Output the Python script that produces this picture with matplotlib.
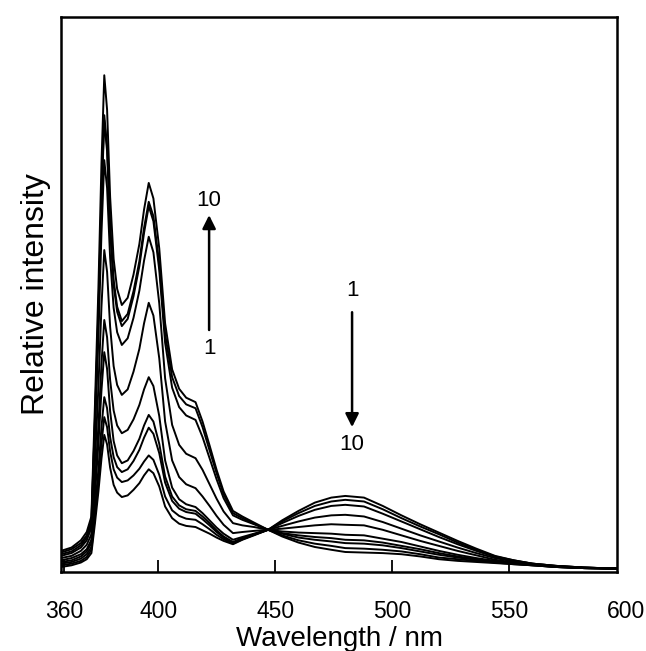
import numpy as np
import matplotlib
matplotlib.use("Agg")
import matplotlib.pyplot as plt

plt.rcParams['font.family'] = ['Liberation Sans', 'DejaVu Sans']

# --- data (wavelength in nm, relative intensity 0-100) ---
wavelength = [358.5, 363, 367, 369.5, 371.5, 373, 374.5, 375.8, 377, 378.2,
              379.5, 381, 382.5, 384.5, 387, 389.5, 392, 394, 396, 398,
              400.5, 403, 406, 409, 412, 416, 419, 422, 425, 428,
              432, 436, 441, 447, 453, 460, 467, 474, 480, 488,
              496, 504, 512, 520, 528, 536, 544, 552, 560, 570,
              582, 596]

spec_1 = [0.9, 1.2, 1.7, 2.3, 3.4, 8.7, 14.5, 20.4, 24.7, 23.0,
          18.8, 15.7, 14.3, 13.5, 13.8, 14.8, 16.0, 17.4, 18.5, 17.8,
          15.4, 11.8, 9.7, 8.7, 8.3, 8.1, 7.5, 6.9, 6.2, 5.6,
          5.0, 5.8, 6.6, 7.6, 9.3, 11.0, 12.5, 13.4, 13.7, 13.4,
          11.9, 10.2, 8.6, 7.1, 5.6, 4.2, 2.9, 2.1, 1.5, 1.1,
          0.8, 0.6]
spec_2 = [1.2, 1.5, 2.0, 2.7, 4.0, 10.0, 16.4, 23.1, 27.9, 26.1,
          21.7, 18.5, 17.0, 16.2, 16.5, 17.4, 18.6, 19.9, 21.0, 20.2,
          17.5, 13.6, 11.1, 10.1, 9.6, 9.4, 8.6, 7.7, 6.7, 5.9,
          5.1, 5.9, 6.7, 7.6, 9.1, 10.6, 11.9, 12.7, 13.0, 12.7,
          11.3, 9.7, 8.2, 6.8, 5.3, 4.0, 2.8, 2.1, 1.5, 1.1,
          0.8, 0.6]
spec_3 = [1.5, 1.8, 2.4, 3.2, 4.5, 11.3, 18.5, 26.1, 31.5, 29.5,
          24.3, 20.7, 18.9, 18.0, 18.5, 20.0, 22.0, 24.2, 26.0, 24.9,
          21.4, 16.1, 12.8, 11.4, 10.8, 10.5, 9.5, 8.4, 7.2, 6.2,
          5.2, 5.9, 6.7, 7.6, 8.8, 10.1, 11.2, 11.9, 12.1, 11.8,
          10.5, 9.1, 7.7, 6.3, 5.0, 3.8, 2.7, 2.0, 1.5, 1.1,
          0.8, 0.6]
spec_4 = [1.8, 2.1, 2.8, 3.7, 5.2, 13.8, 23.1, 32.7, 39.6, 36.6,
          29.0, 23.6, 21.0, 19.6, 20.1, 21.8, 24.0, 26.4, 28.3, 27.1,
          23.1, 17.2, 13.6, 12.0, 11.3, 11.0, 10.0, 8.8, 7.5, 6.4,
          5.4, 6.1, 6.8, 7.6, 8.3, 9.1, 9.8, 10.2, 10.3, 10.0,
          9.0, 7.8, 6.6, 5.5, 4.4, 3.4, 2.5, 1.9, 1.4, 1.0,
          0.8, 0.6]
spec_5 = [2.1, 2.5, 3.2, 4.1, 5.8, 15.7, 26.4, 37.5, 45.4, 42.3,
          34.6, 29.1, 26.4, 25.0, 25.6, 27.5, 30.1, 32.9, 35.1, 33.5,
          28.1, 20.1, 15.2, 13.1, 12.2, 11.7, 10.6, 9.3, 8.0, 6.9,
          5.8, 6.3, 6.9, 7.6, 7.8, 8.1, 8.4, 8.6, 8.5, 8.4,
          7.6, 6.6, 5.6, 4.7, 3.8, 3.0, 2.2, 1.7, 1.3, 1.0,
          0.7, 0.6]
spec_6 = [2.5, 2.9, 3.8, 4.9, 6.8, 19.6, 33.4, 47.8, 58.0, 54.1,
          44.2, 37.1, 33.7, 31.9, 32.9, 36.1, 40.2, 44.8, 48.5, 46.2,
          38.5, 27.1, 20.1, 17.1, 15.8, 15.1, 13.6, 11.9, 10.1, 8.5,
          7.0, 7.2, 7.4, 7.6, 7.3, 7.1, 7.0, 6.9, 6.7, 6.6,
          6.0, 5.4, 4.6, 3.8, 3.1, 2.5, 2.0, 1.6, 1.3, 1.0,
          0.7, 0.6]
spec_7 = [2.9, 3.4, 4.4, 5.7, 8.0, 24.6, 42.4, 61.0, 74.2, 69.2,
          56.6, 47.6, 43.2, 40.9, 42.1, 45.8, 50.7, 56.1, 60.4, 57.6,
          48.4, 34.9, 26.5, 22.9, 21.3, 20.5, 18.4, 15.8, 13.2, 10.9,
          8.8, 8.4, 8.1, 7.6, 7.0, 6.6, 6.3, 6.1, 5.8, 5.7,
          5.3, 4.7, 4.1, 3.4, 2.8, 2.3, 1.9, 1.6, 1.3, 0.9,
          0.7, 0.6]
spec_8 = [3.2, 3.7, 4.8, 6.2, 8.6, 26.8, 46.5, 66.8, 81.4, 75.8,
          61.7, 51.7, 46.9, 44.3, 45.6, 49.7, 55.1, 61.1, 65.9, 63.2,
          54.4, 41.3, 33.2, 29.7, 28.2, 27.4, 24.3, 20.5, 16.7, 13.3,
          10.2, 9.4, 8.6, 7.6, 6.9, 6.2, 5.8, 5.5, 5.2, 5.1,
          4.8, 4.3, 3.7, 3.1, 2.6, 2.2, 1.8, 1.5, 1.2, 0.9,
          0.7, 0.6]
spec_9 = [3.5, 4.1, 5.2, 6.6, 9.2, 27.5, 47.2, 67.7, 82.3, 76.7,
          62.6, 52.6, 47.8, 45.2, 46.5, 50.6, 56.0, 62.0, 66.7, 64.1,
          55.5, 42.9, 35.1, 31.7, 30.2, 29.5, 26.1, 21.9, 17.8, 14.0,
          10.6, 9.7, 8.7, 7.6, 6.6, 5.7, 5.1, 4.7, 4.3, 4.2,
          4.0, 3.7, 3.2, 2.6, 2.3, 2.0, 1.7, 1.4, 1.2, 0.9,
          0.7, 0.6]
spec_10 = [3.8, 4.4, 5.7, 7.2, 10.0, 29.9, 51.3, 73.6, 89.5, 83.3,
           67.6, 56.4, 51.0, 48.1, 49.4, 53.6, 59.1, 65.3, 70.1, 67.3,
           58.3, 44.8, 36.5, 33.0, 31.4, 30.6, 27.1, 22.8, 18.4, 14.5,
           11.0, 10.0, 8.9, 7.6, 6.4, 5.3, 4.5, 4.0, 3.6, 3.5,
           3.4, 3.2, 2.8, 2.3, 2.0, 1.8, 1.6, 1.4, 1.2, 0.9,
           0.7, 0.6]

spectra = [spec_1, spec_2, spec_3, spec_4, spec_5,
           spec_6, spec_7, spec_8, spec_9, spec_10]

tick_values = [360, 400, 450, 500, 550]

# --- figure ---
fig = plt.figure(figsize=(6.46, 6.51), dpi=100)
ax = fig.add_axes([0.0944, 0.1214, 0.861, 0.8525])

for s in spectra:
    ax.plot(wavelength, s, color='black', lw=1.4)

ax.set_xlim(358.5, 596.2)
ax.set_ylim(0, 100)

for sp in ax.spines.values():
    sp.set_linewidth(1.8)

ax.set_yticks([])
ax.set_xticks(tick_values)
ax.set_xticklabels([str(v) for v in tick_values])
ax.tick_params(axis='x', direction='in', length=9, width=1.3, pad=20,
               labelsize=16.5)
# the 600 label sits just past the right edge of the frame
ax.annotate('600', xy=(600, 0), xycoords=('data', 'axes fraction'),
            xytext=(0, -20), textcoords='offset points',
            ha='center', va='top', fontsize=16.5, annotation_clip=False)

ax.set_xlabel('Wavelength / nm', fontsize=20, labelpad=2)
ax.set_ylabel('Relative intensity', fontsize=23, labelpad=7)

# arrows showing the direction of change (1 -> 10)
arrow = dict(arrowstyle='-|>', lw=1.8, color='black',
             mutation_scale=20, shrinkA=0, shrinkB=0)
ax.annotate('', xy=(421.8, 64.3), xytext=(421.8, 43.6), arrowprops=arrow)
ax.text(421.8, 66.9, '10', ha='center', va='center', fontsize=16)
ax.text(421.8, 40.3, '1', ha='center', va='center', fontsize=16)

ax.annotate('', xy=(482.9, 26.1), xytext=(482.9, 46.8), arrowprops=arrow)
ax.text(482.9, 50.7, '1', ha='center', va='center', fontsize=16)
ax.text(482.9, 22.9, '10', ha='center', va='center', fontsize=16)

fig.savefig('out.png', dpi=100)
